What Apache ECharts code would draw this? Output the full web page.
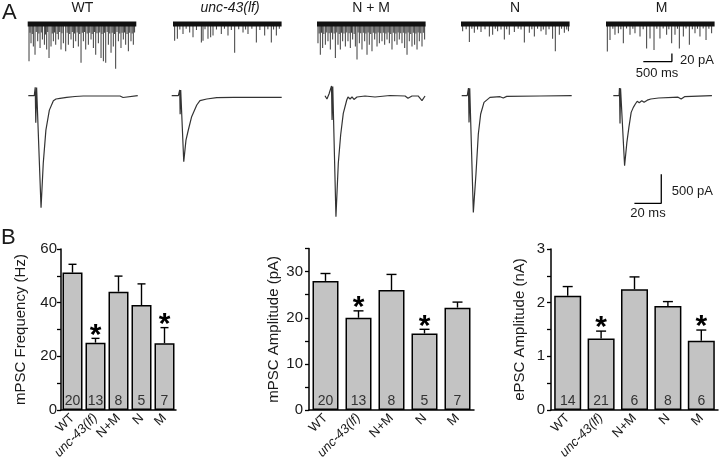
<!DOCTYPE html>
<html><head><meta charset="utf-8">
<script src="https://cdn.jsdelivr.net/npm/echarts@6/dist/echarts.min.js"></script>
<style>html,body{margin:0;padding:0;background:#fff}#c{width:720px;height:467px}</style>
</head><body><div id="c"></div>
<script>
// ---------- Panel B data ----------
const groups = ['WT', 'unc-43(lf)', 'N+M', 'N', 'M'];
const traceTitles = ['WT', 'unc-43(lf)', 'N + M', 'N', 'M'];
const mpscFreq = [51.2, 25.1, 44.1, 39.1, 24.9];
const mpscFreqSem = [3.1, 1.6, 5.8, 7.9, 5.8];
const mpscAmp = [28.0, 20.0, 26.0, 16.6, 22.2];
const mpscAmpSem = [1.6, 1.5, 3.4, 0.9, 1.2];
const epscAmp = [2.13, 1.33, 2.25, 1.94, 1.29];
const epscAmpSem = [0.17, 0.14, 0.23, 0.08, 0.20];
const nMini = [20, 13, 8, 5, 7];
const nEvoked = [14, 21, 6, 8, 6];
const sigFreq = [0, 1, 0, 0, 1];
const sigAmp = [0, 1, 0, 1, 0];
const sigEpsc = [0, 1, 0, 0, 1];
const freqTicks = [0, 20, 40, 60];
const ampTicks = [0, 10, 20, 30];
const epscTicks = [0, 1, 2, 3];

// ---------- Panel A data: mPSC events [time ms, amplitude pA] ----------
const miniDuration = 1900;
const miniWT = [[23,93],[58,48],[99,56],[128,77],[175,43],[216,60],[257,39],[292,52],[332,64],[373,85],[408,56],[449,43],[490,52],[536,39],[583,64],[624,48],[665,68],[711,52],[758,39],[799,60],[840,43],[886,56],[933,97],[974,43],[1015,64],[1061,52],[1108,39],[1149,60],[1190,77],[1236,48],[1283,85],[1324,93],[1365,97],[1411,52],[1458,72],[1498,56],[1539,112],[1586,43],[1632,60],[1673,39],[1714,52],[1761,68],[1807,43],[1848,52],
  [40,22],[80,25],[150,20],[195,24],[238,21],[312,26],[350,20],[430,24],[470,21],[515,25],[560,20],[600,23],[690,22],[735,25],[780,20],[820,24],[865,21],[910,25],[955,22],[995,20],[1040,24],[1085,22],[1128,25],[1170,20],[1212,23],[1260,21],[1300,25],[1345,22],[1390,20],[1435,24],[1478,22],[1520,25],[1562,20],[1610,24],[1652,22],[1694,21],[1738,25],[1784,22],[1828,24],[1870,21]];
const miniUnc = [[29,42],[76,37],[175,25],[292,21],[350,33],[496,46],[525,42],[612,37],[659,33],[700,29],[845,25],[962,29],[1079,72],[1225,21],[1312,25],[1458,46],[1604,29],[1720,46],[1808,29],
  [120,14],[230,12],[410,15],[560,13],[760,14],[900,12],[1020,15],[1150,13],[1270,14],[1380,12],[1520,15],[1660,13],[1760,14],[1860,12]];
const miniNM = [[17,48],[58,77],[99,60],[146,52],[192,43],[233,64],[274,39],[321,85],[367,52],[408,64],[449,43],[496,56],[542,43],[583,60],[624,39],[671,56],[700,89],[741,48],[787,64],[834,43],[875,77],[915,52],[962,68],[1009,39],[1050,56],[1091,48],[1137,43],[1184,52],[1225,39],[1266,48],[1312,64],[1359,43],[1400,52],[1440,39],[1487,48],[1534,60],[1575,77],[1615,43],[1662,56],[1708,52],[1750,64],[1790,43],[1837,56],[1883,39],
  [38,24],[78,22],[120,25],[170,21],[212,23],[255,22],[300,24],[345,21],[388,25],[430,22],[472,24],[520,21],[562,23],[604,22],[650,25],[720,21],[765,23],[810,22],[855,24],[895,21],[940,25],[985,22],[1030,24],[1070,21],[1115,23],[1160,22],[1205,24],[1245,21],[1290,25],[1335,22],[1380,24],[1420,21],[1465,23],[1510,22],[1555,24],[1595,21],[1640,25],[1685,22],[1730,24],[1770,21],[1815,23],[1860,22]];
const miniN = [[29,18],[146,45],[233,22],[350,20],[496,31],[554,27],[641,18],[758,39],[845,27],[933,20],[1108,46],[1195,22],[1283,31],[1400,18],[1487,27],[1603,37],[1650,68],[1720,27],[1808,22],[1880,18],
  [90,13],[190,12],[290,14],[420,13],[600,12],[700,14],[800,13],[1000,12],[1050,14],[1240,13],[1340,12],[1440,14],[1540,13],[1760,12],[1850,14]];
const miniM = [[23,69],[70,40],[157,27],[216,23],[303,48],[420,27],[507,23],[595,31],[711,61],[770,36],[840,65],[944,36],[1061,27],[1149,48],[1207,27],[1283,61],[1353,31],[1458,52],[1557,23],[1644,31],[1750,40],[1848,23],
  [120,12],[260,13],[360,11],[470,12],[650,13],[890,12],[1000,11],[1100,13],[1250,12],[1400,11],[1510,13],[1600,12],[1700,11],[1800,12]];
const miniTraces = [miniWT, miniUnc, miniNM, miniN, miniM];

// ---------- Panel A data: evoked traces [time ms, current pA] ----------
const evokedWT = [[0,0],[4.3,0],[5.0,144],[5.4,-465],[6.0,141],[9.2,-1926],[10.8,-1162],[12.7,-592],[15.2,-248],[18.1,-86],[20,-57],[22.9,-45],[27.7,-28],[33.7,-14],[39.7,-5],[51.8,-5],[66.2,-5],[68.4,-31],[69.7,-5],[79,0]];
const evokedUnc = [[0,0],[4.8,0],[5.8,98],[6.1,-320],[6.5,98],[8.7,-1135],[10.3,-764],[12.0,-590],[14.4,-361],[18.1,-160],[20.4,-86],[25.3,-57],[32.5,-34],[44.5,-28],[79.4,-28]];
const evokedNM = [[0,0],[1.4,-57],[2.9,29],[4,-5],[4.7,167],[5.1,-418],[5.6,158],[7.9,-2081],[9.6,-1163],[11.3,-676],[13.2,-303],[15.7,-74],[16.6,-22],[18.1,-57],[19.5,-22],[20.9,-65],[23.1,-22],[28.9,-5],[36.1,-22],[46.9,3],[57.8,-5],[59.9,-45],[62.8,-5],[67.2,-5],[70,-86],[72.2,-5]];
const evokedN = [[0,0],[4.0,0],[4.9,132],[5.3,-459],[5.8,129],[8.4,-2007],[10.3,-1347],[12.0,-659],[13.7,-315],[16.1,-115],[20.4,-29],[27.7,-17],[30,-40],[32.5,-12],[56.5,-5],[79.4,0]];
const evokedM = [[0,0],[4.3,0],[4.6,132],[5.0,-476],[5.4,129],[8.4,-1204],[10.1,-803],[11.6,-545],[13.3,-287],[14.9,-201],[16.4,-143],[17.8,-95],[19.3,-120],[21.2,-86],[22.9,-112],[25.3,-77],[27.9,-57],[33.7,-40],[44.5,-29],[48.2,-26],[50.5,-57],[53,-17],[73.4,0]];
const evokedTraces = [evokedWT, evokedUnc, evokedNM, evokedN, evokedM];

// scale bars: [time, current]
const miniScale = [500, 20];
const evokedScale = [20, 500];

// ---------- layout ----------
const FONT = '"Liberation Sans", Arial, sans-serif';
const TXT = '#1a1a1a';
const miniLeft = [27.7, 173, 317, 461, 606];
const evokedLeft = [28.3, 171.7, 325, 461.7, 613.3];

const grid = [], xAxis = [], yAxis = [], series = [];
let gi = 0;

// mini traces
miniTraces.forEach((tr, k) => {
  grid.push({left: miniLeft[k], top: 10, width: 108.6, height: 65});
  xAxis.push({gridIndex: gi, type: 'value', min: 0, max: miniDuration, show: false});
  yAxis.push({gridIndex: gi, type: 'value', min: -127.5, max: 35, show: false});
  series.push({type: 'line', xAxisIndex: gi, yAxisIndex: gi, data: [[0, 0], [miniDuration, 0]],
    symbol: 'none', lineStyle: {color: '#111', width: 5}, silent: true, z: 3});
  series.push({type: 'bar', xAxisIndex: gi, yAxisIndex: gi, barWidth: 1,
    data: tr.map(e => [e[0], -e[1]]), itemStyle: {color: '#3c3c3c'}, silent: true, z: 2});
  if (k === 4) {
    const ox = 653, oy = -94;
    series.push({type: 'line', xAxisIndex: gi, yAxisIndex: gi, symbol: 'none',
      data: [[ox, oy], [ox + miniScale[0], oy], [ox + miniScale[0], oy + miniScale[1]]],
      lineStyle: {color: '#000', width: 1.3}, silent: true});
  }
  gi++;
});

// evoked traces
evokedTraces.forEach((tr, k) => {
  grid.push({left: evokedLeft[k], top: 80, width: 110, height: 140});
  xAxis.push({gridIndex: gi, type: 'value', min: 0, max: 79.4, show: false});
  yAxis.push({gridIndex: gi, type: 'value', min: -2138, max: 270, show: false});
  series.push({type: 'line', xAxisIndex: gi, yAxisIndex: gi, data: tr, symbol: 'none',
    lineStyle: {color: '#333', width: 1.2}, silent: true});
  if (k === 4) {
    const ox = 15.7, oy = -1851;
    series.push({type: 'line', xAxisIndex: gi, yAxisIndex: gi, symbol: 'none',
      data: [[ox, oy], [ox + evokedScale[0], oy], [ox + evokedScale[0], oy + evokedScale[1]]],
      lineStyle: {color: '#000', width: 1.3}, silent: true});
  }
  gi++;
});

// bar charts
const bars = [
  {left: 61, width: 115, top: 249, height: 161, max: 60, interval: 10, ticks: freqTicks, name: 'mPSC Frequency (Hz)', nameGap: 33, margin: 4,
   vals: mpscFreq, sem: mpscFreqSem, n: nMini, sig: sigFreq, barW: 20, cap: 8},
  {left: 309, width: 165, top: 248.6, height: 161.4, max: 35, interval: 5, ticks: ampTicks, name: 'mPSC Amplitude (pA)', nameGap: 28, margin: 6,
   vals: mpscAmp, sem: mpscAmpSem, n: nMini, sig: sigAmp, barW: 26, cap: 10},
  {left: 551, width: 167, top: 249, height: 161, max: 3, interval: 0.5, ticks: epscTicks, name: 'ePSC Amplitude (nA)', nameGap: 24, margin: 6,
   vals: epscAmp, sem: epscAmpSem, n: nEvoked, sig: sigEpsc, barW: 27, cap: 10}
];
bars.forEach(b => {
  grid.push({left: b.left, top: b.top, width: b.width, height: b.height});
  xAxis.push({gridIndex: gi, type: 'category', data: groups,
    axisLine: {lineStyle: {color: '#000', width: 1.5}}, axisTick: {show: false},
    axisLabel: {interval: 0, rotate: 45, margin: 6,
      formatter: v => v === 'unc-43(lf)' ? '{it|' + v + '}' : '{n|' + v + '}',
      rich: {it: {fontStyle: 'italic', fontSize: 13, color: TXT, fontFamily: FONT},
             n: {fontSize: 13, color: TXT, fontFamily: FONT}}}});
  yAxis.push({gridIndex: gi, type: 'value', min: 0, max: b.max, interval: b.interval,
    name: b.name, nameLocation: 'middle', nameGap: b.nameGap, nameRotate: 90,
    nameTextStyle: {fontSize: 15, color: TXT, fontFamily: FONT},
    axisLine: {show: true, lineStyle: {color: '#000', width: 1.5}},
    axisTick: {show: true, length: 4, lineStyle: {color: '#000', width: 1.3}},
    splitLine: {show: false},
    axisLabel: {margin: b.margin, fontSize: 15, color: TXT, fontFamily: FONT,
      formatter: v => b.ticks.some(t => Math.abs(t - v) < 1e-9) ? String(v) : ''}});
  series.push({type: 'bar', xAxisIndex: gi, yAxisIndex: gi, data: b.vals, barWidth: b.barW,
    itemStyle: {color: '#c3c3c3', borderColor: '#000', borderWidth: 1.5}, silent: true, z: 2});
  series.push({type: 'custom', xAxisIndex: gi, yAxisIndex: gi, z: 4, silent: true,
    data: groups.map((g, i) => [i, b.vals[i], b.sem[i], b.n[i], b.sig[i]]),
    renderItem: (params, api) => {
      const i = api.value(0), v = api.value(1), e = api.value(2), n = api.value(3), s = api.value(4);
      const top = api.coord([i, v]);
      const et = api.coord([i, v + e]);
      const base = api.coord([i, 0]);
      const children = [
        {type: 'line', shape: {x1: top[0], y1: top[1], x2: et[0], y2: et[1]}, style: {stroke: '#000', lineWidth: 1.4}},
        {type: 'line', shape: {x1: et[0] - b.cap / 2, y1: et[1], x2: et[0] + b.cap / 2, y2: et[1]}, style: {stroke: '#000', lineWidth: 1.4}},
        {type: 'text', style: {text: String(n), x: base[0], y: base[1] - 9, textAlign: 'center', textVerticalAlign: 'middle',
          fontSize: 14, fontFamily: FONT, fill: '#333'}}
      ];
      if (s) children.push({type: 'text', style: {text: '*', x: et[0], y: et[1] - 3, textAlign: 'center', textVerticalAlign: 'middle',
          fontSize: 30, fontWeight: 'bold', fontFamily: FONT, fill: '#000'}});
      return {type: 'group', children};
    }});
  gi++;
});

// text annotations
const titleX = [82.5, 230, 371, 515, 661.7];
const graphic = [
  {type: 'text', left: 2, top: 2, style: {text: 'A', fontSize: 22, fontFamily: FONT, fill: TXT}},
  {type: 'text', left: 1, top: 227, style: {text: 'B', fontSize: 22, fontFamily: FONT, fill: TXT}},
  {type: 'text', x: 680, y: 60, style: {text: '20 pA', fontSize: 13, fontFamily: FONT, fill: TXT, textVerticalAlign: 'middle'}},
  {type: 'text', x: 657, y: 73.5, style: {text: '500 ms', fontSize: 13, fontFamily: FONT, fill: TXT, textAlign: 'center', textVerticalAlign: 'middle'}},
  {type: 'text', x: 671.7, y: 191.7, style: {text: '500 pA', fontSize: 13, fontFamily: FONT, fill: TXT, textVerticalAlign: 'middle'}},
  {type: 'text', x: 648, y: 213.3, style: {text: '20 ms', fontSize: 13, fontFamily: FONT, fill: TXT, textAlign: 'center', textVerticalAlign: 'middle'}}
];
traceTitles.forEach((t, k) => graphic.push({type: 'text', x: titleX[k], y: 8.5,
  style: {text: t, fontSize: 14, fontFamily: FONT, fill: TXT, textAlign: 'center', textVerticalAlign: 'middle',
    fontStyle: k === 1 ? 'italic' : 'normal'}}));

const chart = echarts.init(document.getElementById('c'), null, {renderer: 'canvas'});
chart.setOption({animation: false, backgroundColor: '#fff', grid, xAxis, yAxis, series, graphic});
</script>
</body></html>
